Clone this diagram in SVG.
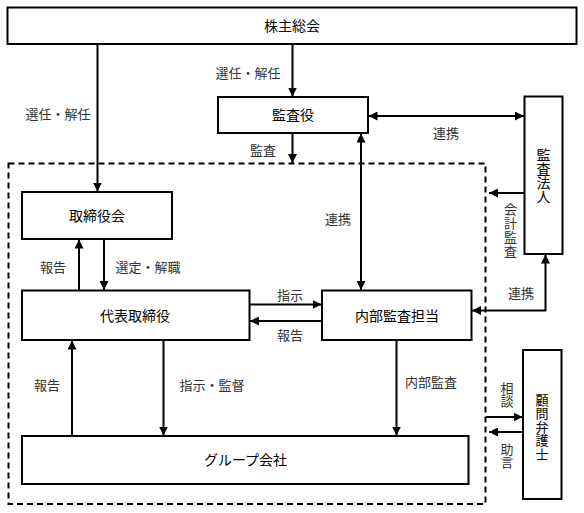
<svg xmlns="http://www.w3.org/2000/svg" width="584" height="513" viewBox="0 0 584 513">
<style>
.box{fill:#fff;stroke:#000;stroke-width:2}
.ln{fill:none;stroke:#000;stroke-width:2}
.dash{fill:none;stroke:#000;stroke-width:2;stroke-dasharray:6 4}
.nt{font-family:"Noto Sans CJK JP","Noto Sans",sans-serif;font-size:14px;fill:#000;text-anchor:middle}
.et{font-family:"Noto Sans CJK JP","Noto Sans",sans-serif;font-size:13px;fill:#333;text-anchor:middle}
.v{writing-mode:vertical-rl}
</style>
<defs>
<marker id="ah" viewBox="0 0 10 10" refX="10" refY="5" markerWidth="9" markerHeight="9" markerUnits="userSpaceOnUse" orient="auto-start-reverse">
<path d="M0,0 L10,5 L0,10 z" fill="#000"/>
</marker>
</defs>
<rect class="dash" x="8.5" y="163.5" width="477" height="340.5"/>
<g id="n-kabunushi"><rect class="box" x="7.5" y="7.5" width="569" height="36.5"/><text class="nt" x="292" y="31">株主総会</text></g>
<g id="n-kansayaku"><rect class="box" x="218" y="97" width="150" height="36"/><text class="nt" x="293" y="120">監査役</text></g>
<g id="n-kansahojin"><rect class="box" x="524.5" y="96.5" width="38" height="157.5"/><text class="nt v" x="543.5" y="175.5">監査法人</text></g>
<g id="n-torishimariyakukai"><rect class="box" x="22" y="192" width="150" height="47"/><text class="nt" x="97" y="221">取締役会</text></g>
<g id="n-daihyo"><rect class="box" x="22" y="290.5" width="227.5" height="49.5"/><text class="nt" x="135" y="321">代表取締役</text></g>
<g id="n-naibu"><rect class="box" x="322" y="290.5" width="149.5" height="49.5"/><text class="nt" x="397" y="321">内部監査担当</text></g>
<g id="n-group"><rect class="box" x="22" y="436" width="446.5" height="48"/><text class="nt" x="245.5" y="465">グループ会社</text></g>
<g id="n-komon"><rect class="box" x="523" y="350" width="38.5" height="149"/><text class="nt v" x="542" y="427" style="font-size:13px;letter-spacing:0.5px">顧問弁護士</text></g>
<g id="connectors">
<line class="ln" x1="97.5" y1="44" x2="97.5" y2="191.5" marker-end="url(#ah)"/>
<line class="ln" x1="292.5" y1="44" x2="292.5" y2="96.5" marker-end="url(#ah)"/>
<line class="ln" x1="292.5" y1="133" x2="292.5" y2="163" marker-end="url(#ah)"/>
<line class="ln" x1="368.5" y1="116" x2="524" y2="116" marker-start="url(#ah)" marker-end="url(#ah)"/>
<line class="ln" x1="361" y1="133.5" x2="361" y2="290" marker-start="url(#ah)" marker-end="url(#ah)"/>
<line class="ln" x1="524" y1="193" x2="489" y2="193" marker-end="url(#ah)"/>
<polyline class="ln" points="472,310.5 545.5,310.5 545.5,254.5" marker-start="url(#ah)" marker-end="url(#ah)"/>
<line class="ln" x1="104" y1="239" x2="104" y2="290" marker-end="url(#ah)"/>
<line class="ln" x1="79" y1="290" x2="79" y2="239.5" marker-end="url(#ah)"/>
<line class="ln" x1="250" y1="304.5" x2="321.5" y2="304.5" marker-end="url(#ah)"/>
<line class="ln" x1="322" y1="321" x2="250" y2="321" marker-end="url(#ah)"/>
<line class="ln" x1="163.5" y1="340.5" x2="163.5" y2="435.5" marker-end="url(#ah)"/>
<line class="ln" x1="72" y1="436" x2="72" y2="340.5" marker-end="url(#ah)"/>
<line class="ln" x1="396.5" y1="340.5" x2="396.5" y2="435.5" marker-end="url(#ah)"/>
<line class="ln" x1="486" y1="417" x2="522.5" y2="417" marker-end="url(#ah)"/>
<line class="ln" x1="523" y1="432" x2="489" y2="432" marker-end="url(#ah)"/>
</g>
<g id="labels">
<text class="et" x="58" y="119">選任・解任</text>
<text class="et" x="248" y="77.5">選任・解任</text>
<text class="et" x="263" y="154.5">監査</text>
<text class="et" x="446" y="137.5">連携</text>
<text class="et" x="338" y="223.5">連携</text>
<text class="et" x="53" y="271.5">報告</text>
<text class="et" x="148" y="271.5">選定・解職</text>
<text class="et" x="290" y="299.5">指示</text>
<text class="et" x="290" y="339.5">報告</text>
<text class="et" x="521" y="297.5">連携</text>
<text class="et" x="47" y="389.5">報告</text>
<text class="et" x="212" y="389.5">指示・監督</text>
<text class="et" x="431" y="386.5">内部監査</text>
<text class="et v" x="510.5" y="230.5" style="letter-spacing:0.75px">会計監査</text>
<text class="et v" x="507" y="395">相談</text>
<text class="et v" x="507" y="455.5">助言</text>
</g>
</svg>
